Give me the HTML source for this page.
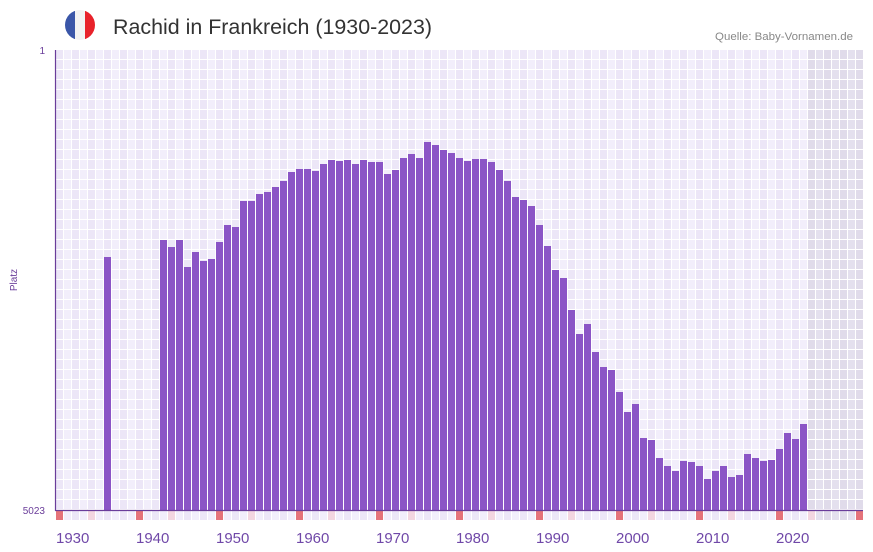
<!DOCTYPE html>
<html><head><meta charset="utf-8"><style>
body{margin:0;background:#fff;width:873px;height:552px;overflow:hidden}
svg{display:block;font-family:"Liberation Sans",sans-serif}
</style></head><body>
<svg id="s" width="873" height="552" xmlns="http://www.w3.org/2000/svg">
<defs><clipPath id="c"><circle cx="80" cy="25" r="15"/></clipPath></defs>
<g clip-path="url(#c)"><rect x="65" y="10" width="10" height="30" fill="#3a56a8"/><rect x="75" y="10" width="10" height="30" fill="#f2f2f2"/><rect x="85" y="10" width="10" height="30" fill="#e8222a"/></g>
<text x="113" y="34" font-size="21" fill="#333" textLength="319" lengthAdjust="spacingAndGlyphs">Rachid in Frankreich (1930-2023)</text>
<text x="715" y="40" font-size="11" fill="#888" textLength="138" lengthAdjust="spacingAndGlyphs">Quelle: Baby-Vornamen.de</text>
<text x="45" y="54" font-size="10" fill="#6a3d9a" text-anchor="end">1</text>
<text x="45" y="514" font-size="10" fill="#6a3d9a" text-anchor="end">5023</text>
<text x="17" y="280" font-size="10" fill="#6a3d9a" text-anchor="middle" transform="rotate(-90 17 280)">Platz</text>
<g id="g"></g>
<line x1="55.5" y1="50" x2="55.5" y2="511" stroke="#6a3d9a" stroke-width="1.2"/>
<line x1="55" y1="510.5" x2="863" y2="510.5" stroke="#6a3d9a" stroke-width="1.2"/>
</svg>
<script>
var g=document.getElementById('g'),h='';
for(var i=0;i<101;i++){var x=56+8*i,sh=i>=94;
 var col=sh?(i%2?'#e4e0ee':'#e0dbea'):(i%2?'#f2eefb':'#ece6f7');
 for(var j=0;j<46;j++){h+='<rect x="'+x+'" y="'+(50+10*j)+'" width="7" height="9" fill="'+col+'"/>';}
 var y=1930+i,mc=(y%10==0)?'#e5737a':(y%10==4?'#f3d6e0':col);
 h+='<rect x="'+x+'" y="511" width="7" height="9" fill="'+mc+'"/>';
 if(y%10==0&&y<=2020)h+='<text x="'+x+'" y="543" font-size="15" fill="#7048a8">'+y+'</text>';
}
var d={1936:257,1943:240,1944:247,1945:240,1946:267,1947:252,1948:261,1949:259,1950:242,1951:225,1952:227,1953:201,1954:201,1955:194,1956:192,1957:187,1958:181,1959:172,1960:169,1961:169,1962:171,1963:164,1964:160,1965:161,1966:160,1967:164,1968:160,1969:162,1970:162,1971:174,1972:170,1973:158,1974:154,1975:158,1976:142,1977:145,1978:150,1979:153,1980:158,1981:161,1982:159,1983:159,1984:162,1985:170,1986:181,1987:197,1988:200,1989:206,1990:225,1991:246,1992:270,1993:278,1994:310,1995:334,1996:324,1997:352,1998:367,1999:370,2000:392,2001:412,2002:404,2003:438,2004:440,2005:458,2006:466,2007:471,2008:461,2009:462,2010:466,2011:479,2012:471,2013:466,2014:477,2015:475,2016:454,2017:458,2018:461,2019:460,2020:449,2021:433,2022:439,2023:424};
for(var k in d){var x=56+8*(k-1930);h+='<rect x="'+x+'" y="'+d[k]+'" width="7" height="'+(510-d[k])+'" fill="#8b55c6"/>';}
g.innerHTML=h;
</script>
</body></html>
